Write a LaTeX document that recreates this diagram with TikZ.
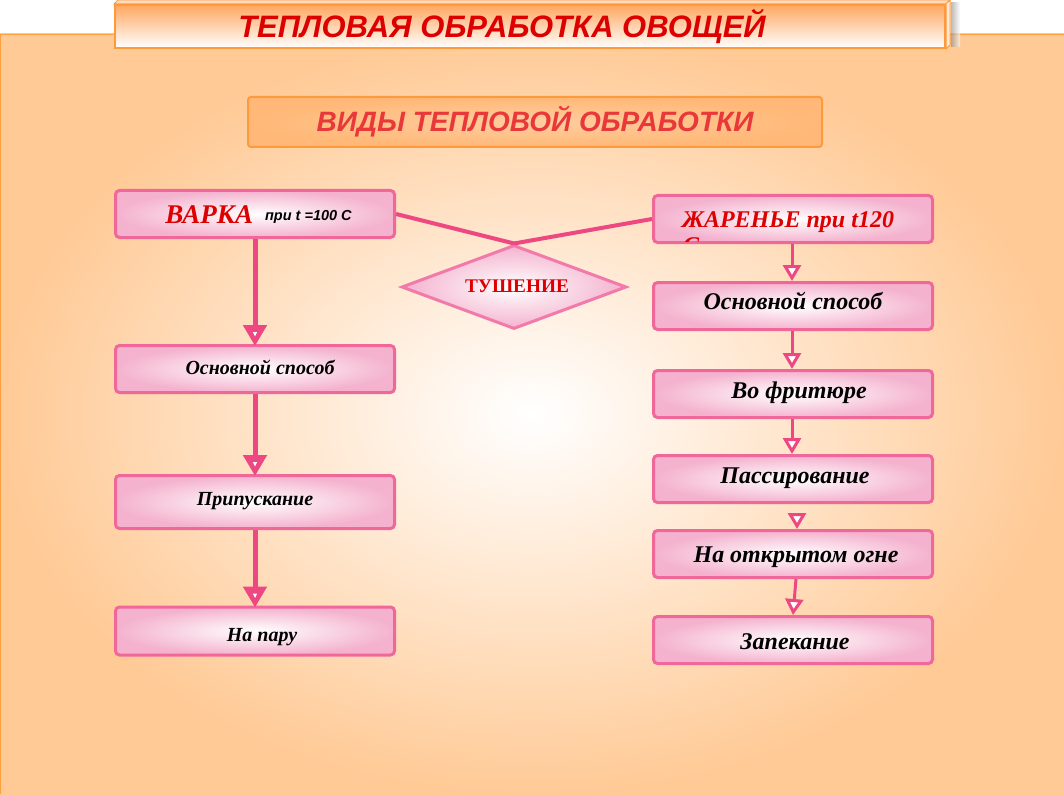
\documentclass[tikz,border=0pt]{standalone}
\usepackage{fontspec}
\setmainfont{Liberation Serif}
\newfontfamily\sansf{Liberation Sans}
\usetikzlibrary{arrows.meta,shapes.geometric,calc}
\definecolor{peach}{HTML}{FFCA96}
\definecolor{bgborder}{HTML}{FFA040}
\definecolor{titlered}{HTML}{DD0000}
\definecolor{subred}{HTML}{E8383A}
\definecolor{pinkborder}{HTML}{F0689A}
\definecolor{pinkline}{HTML}{EE4882}
\definecolor{boxpink}{HTML}{F4B2CE}
\definecolor{diaborder}{HTML}{F27AAA}
\definecolor{titleorange}{HTML}{FFA860}
\definecolor{suborange}{HTML}{FFB877}
\definecolor{orangeborder}{HTML}{FF9A3C}
\begin{document}
\begin{tikzpicture}[x=1pt,y=-1pt,
  pinkbox/.style={draw=pinkborder, line width=3pt, rounded corners=4pt,
    inner color=white, outer color=boxpink, minimum width=279pt, inner sep=0pt},
  smalltxt/.style={font=\bfseries\itshape\fontsize{20}{22}\selectfont},
  bigtxt/.style={font=\bfseries\itshape\fontsize{24}{26}\selectfont},
  base/.style 2 args={text height=#1pt, text depth=#2pt},
  pline/.style={draw=pinkline, line width=4pt},
  larrow/.style={draw=pinkline, fill=pinkline, line width=5pt,
    -{Triangle[width=23pt,length=21pt]}, shorten >=-2pt},
  rarrow/.style={draw=pinkline, line width=3pt,
    -{Triangle[width=18pt,length=16pt,fill=white]}},
  notch/.style={fill=white}
]
\useasboundingbox (0,0) rectangle (1064,794);
% background
\shade[inner color=white, outer color=peach] (0,34) rectangle (1064,794);
\draw[bgborder, line width=1pt] (0.5,793.5) -- (0.5,34.5) -- (1063.5,34.5);
% title shadow
\shade[left color=black!45, right color=white, opacity=0.6] (951,3) rectangle (960,47);
% title
\node[draw=orangeborder, line width=2pt, top color=titleorange, bottom color=white,
  minimum width=830pt, minimum height=43pt, inner sep=0pt,
  font=\sansf\bfseries\itshape\fontsize{31}{34}\selectfont, text=titlered] (title) at (530,26.5) {ТЕПЛОВАЯ ОБРАБОТКА ОВОЩЕЙ\hspace*{56pt}};
\filldraw[fill=titleorange!40, draw=orangeborder, line width=1pt]
  (title.north west) -- ++(4,-4) -- ($(title.north east)+(4,-4)$) -- (title.north east) -- cycle;
\filldraw[fill=titleorange!25, draw=orangeborder, line width=1pt]
  (title.north east) -- ++(4,-4) -- ($(title.south east)+(4,-4)$) -- (title.south east) -- cycle;
% subtitle
\node[draw=orangeborder, line width=2pt, rounded corners=3pt, inner color=suborange!70, outer color=suborange,
  minimum width=574pt, minimum height=50pt, inner sep=0pt,
  font=\sansf\bfseries\itshape\fontsize{28}{30}\selectfont, text=subred] (sub) at (535,122) {ВИДЫ ТЕПЛОВОЙ ОБРАБОТКИ};
% left column
\node[pinkbox, minimum height=47pt, base={20}{0}] (varka) at (255,214)
  {\hspace*{7pt}{\color{titlered}\fontsize{27}{30}\selectfont\bfseries\itshape ВАРКА}\hspace{12pt}\raisebox{3pt}{\sansf\bfseries\itshape\fontsize{14.5}{16}\selectfont при t =100 С}};
\node[pinkbox, minimum height=47pt, smalltxt, base={16}{6}] (lo) at (255,369) {\hspace*{10pt}Основной способ};
\node[pinkbox, minimum height=53pt, smalltxt, base={16}{10}] (lp) at (255,502) {Припускание};
\node[pinkbox, minimum height=48pt, smalltxt, base={20}{0}] (lpar) at (255,631) {\hspace*{14pt}На пару};
% right column
\node[pinkbox, minimum height=47pt, base={18}{0}, text=titlered, font=\bfseries\itshape\fontsize{24}{26}\selectfont] (jar) at (793,219) {ЖАРЕНЬЕ при t120\hspace*{10pt}};
\begin{scope}
  \clip (654,196) rectangle (932,241.5);
  \node[anchor=base west, inner sep=0pt, text=titlered, font=\bfseries\itshape\fontsize{24}{26}\selectfont] (jarc) at (683,253) {С};
\end{scope}
\node[pinkbox, minimum height=47pt, bigtxt, base={16}{10}] (ro) at (793,306) {Основной способ};
\node[pinkbox, minimum height=47pt, bigtxt, base={16}{8}] (rf) at (793,394) {\hspace*{12pt}Во фритюре};
\node[pinkbox, minimum height=47pt, bigtxt, base={16}{8}] (rp) at (793,479) {\hspace*{4pt}Пассирование};
\node[pinkbox, minimum height=47pt, bigtxt, base={16}{0}] (rog) at (793,554) {\hspace*{6pt}На открытом огне};
\node[pinkbox, minimum height=47pt, bigtxt, base={18}{0}] (rz) at (793,640) {\hspace*{4pt}Запекание};
% diamond
\node[diamond, aspect=2.6, draw=diaborder, line width=3pt, inner color=white, outer color=boxpink,
  minimum width=225pt, minimum height=84pt, inner sep=0pt, base={14}{4},
  font=\bfseries\fontsize{19.3}{21}\selectfont, text=titlered] (tush) at (514,287) {\hspace*{6pt}ТУШЕНИЕ};
% connectors to diamond
\draw[pline] (varka.east) -- (tush.north);
\draw[pline] (jar.west) -- (tush.north);
% left arrows
\draw[larrow] (varka.south) -- (lo.north);
\draw[larrow] (lo.south) -- (lp.north);
\draw[larrow] (lp.south) -- (lpar.north);
\foreach \n in {lo,lp,lpar}{
  \fill[notch] ($(\n.north)+(-2.2,-12)$) -- ($(\n.north)+(2.2,-12)$) -- ($(\n.north)+(0,-7.5)$) -- cycle;
}
% right arrows
\draw[rarrow] ($(jar.south)+(-1,0)$) -- ($(ro.north)+(-1,0)$);
\draw[rarrow] ($(ro.south)+(-1,0)$) -- ($(rf.north)+(-1,0)$);
\draw[rarrow] ($(rf.south)+(-1,0)$) -- ($(rp.north)+(-1,0)$);
\draw[rarrow, shorten <=9pt] ($(rp.south)+(4,0)$) -- ($(rog.north)+(4,0)$);
\draw[rarrow] ($(rog.south)+(3,0)$) -- ($(rz.north)+(0,0)$);
\end{tikzpicture}
\end{document}
